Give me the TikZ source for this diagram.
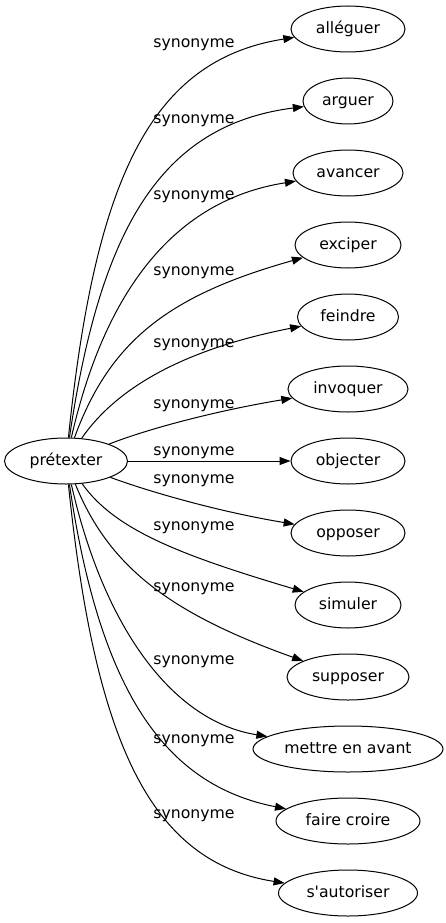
\documentclass[tikz,border=0pt]{standalone}
\usepackage{fontspec}
\setmainfont{DejaVu Sans}[Ligatures=TeXOff]
\usetikzlibrary{arrows.meta,shapes.geometric}
\begin{document}
\begin{tikzpicture}[x=1pt,y=-1pt,
  word/.style={draw, ellipse, line width=1pt, inner sep=0pt, minimum height=46pt,
    text height=12.5pt, text depth=3.5pt, font=\fontsize{15.7}{18}\selectfont},
  rel/.style={font=\fontsize{15.7}{18}\selectfont, inner sep=0pt, text height=12pt, text depth=3.5pt},
  link/.style={line width=1pt, -{Triangle[length=11pt,width=8pt]}}]
\useasboundingbox (0,0) rectangle (446,923);
\node[word, minimum width=123pt] (src) at (66,461) {prétexter};
\node[word, minimum width=114pt] (n1) at (348,29) {alléguer};
\node[word, minimum width=90pt] (n2) at (348,101) {arguer};
\node[word, minimum width=110pt] (n3) at (348,173) {avancer};
\node[word, minimum width=106pt] (n4) at (348,245) {exciper};
\node[word, minimum width=101pt] (n5) at (348,317) {feindre};
\node[word, minimum width=120pt] (n6) at (348,389) {invoquer};
\node[word, minimum width=114pt] (n7) at (348,461) {objecter};
\node[word, minimum width=114pt] (n8) at (348,533) {opposer};
\node[word, minimum width=106pt] (n9) at (348,605) {simuler};
\node[word, minimum width=122pt] (n10) at (348,677) {supposer};
\node[word, minimum width=190pt] (n11) at (348,749) {mettre en avant};
\node[word, minimum width=144pt] (n12) at (348,821) {faire croire};
\node[word, minimum width=139pt] (n13) at (348,893) {s'autoriser};

\draw[link] (src) .. controls (95,180) and (150,60) .. (n1);
\draw[link] (src) .. controls (100,230) and (160,125) .. (n2);
\draw[link] (src) .. controls (105,290) and (175,200) .. (n3);
\draw[link] (src) .. controls (110,340) and (170,295) .. (n4);
\draw[link] (src) .. controls (115,390) and (180,350) .. (n5);
\draw[link] (src) .. controls (150,428) and (220,410) .. (n6);
\draw[link] (src) -- (n7);
\draw[link] (src) .. controls (150,492) and (220,512) .. (n8);
\draw[link] (src) .. controls (115,530) and (180,555) .. (n9);
\draw[link] (src) .. controls (110,570) and (175,615) .. (n10);
\draw[link] (src) .. controls (105,632) and (175,722) .. (n11);
\draw[link] (src) .. controls (100,692) and (165,785) .. (n12);
\draw[link] (src) .. controls (95,742) and (150,862) .. (n13);

\node[rel] (l1) at (194,43) {synonyme};
\node[rel] (l2) at (194,119) {synonyme};
\node[rel] (l3) at (194,195) {synonyme};
\node[rel] (l4) at (194,271) {synonyme};
\node[rel] (l5) at (194,343) {synonyme};
\node[rel] (l6) at (194,404) {synonyme};
\node[rel] (l7) at (194,451) {synonyme};
\node[rel] (l8) at (194,479) {synonyme};
\node[rel] (l9) at (194,526) {synonyme};
\node[rel] (l10) at (194,587) {synonyme};
\node[rel] (l11) at (194,660) {synonyme};
\node[rel] (l12) at (194,739) {synonyme};
\node[rel] (l13) at (194,814) {synonyme};
\end{tikzpicture}
\end{document}
